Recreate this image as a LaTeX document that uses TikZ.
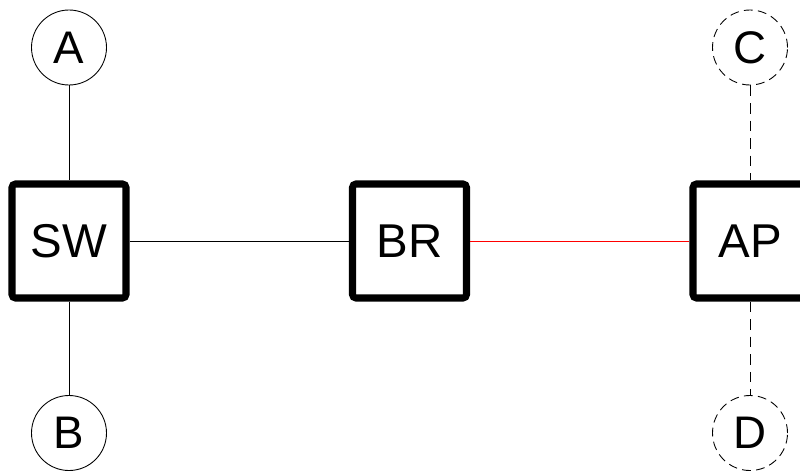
\documentclass[tikz,border=0pt]{standalone}
\usepackage{fontspec}
\setmainfont{Liberation Sans}
\usepackage{tikz}
\usetikzlibrary{arrows}
\usepackage{xcolor}

\tikzset{
  dev/.style={draw=black, line width=4pt, rounded corners=2pt, minimum size=2.28cm, inner sep=0pt, font=\fontsize{27}{30}\selectfont},
  host/.style={circle, draw=black, line width=0.5pt, minimum size=1.5cm, inner sep=0pt, font=\fontsize{26}{28}\selectfont},
  ghost/.style={host, dash pattern=on 5pt off 3pt},
  wire/.style={line width=0.5pt},
}

\begin{document}
\begin{tikzpicture}

      \clip (0, 0) rectangle (16, 9.4);

      \node[dev] (sw) at (1.38, 4.58) {SW};
      \node[dev] (br) at (8.19, 4.58) {BR};
      \node[dev] (ap) at (15.0, 4.58) {AP};

      \node[host] (a) at (1.38, 8.45) {A};
      \node[host] (b) at (1.38, 0.74) {B};
      \node[ghost] (c) at (15.0, 8.45) {C};
      \node[ghost] (d) at (15.0, 0.74) {D};

      \draw[wire] (a) -- (sw);
      \draw[wire] (sw) -- (b);
      \draw[wire] (sw) -- (br);
      \draw[wire, red] (br) -- (ap);
      \draw[wire, dash pattern=on 6pt off 4pt] (c) -- (ap);
      \draw[wire, dash pattern=on 6pt off 4pt] (ap) -- (d);

    \end{tikzpicture}
\end{document}
